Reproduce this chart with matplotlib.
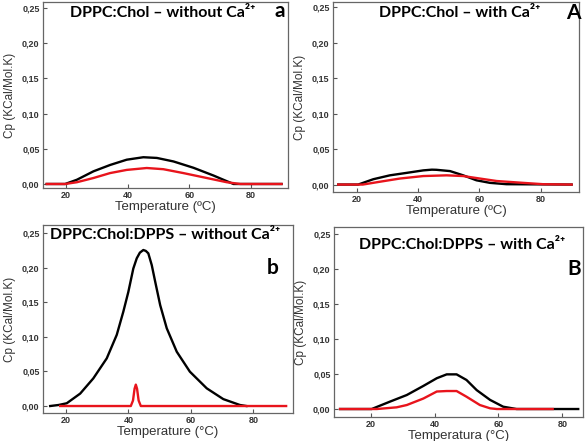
import matplotlib
matplotlib.use('Agg')
import matplotlib.pyplot as plt
import numpy as np

# panel a : DPPC:Chol without Ca2+
a_black_t = [13.7, 19.7, 23.5, 28.9, 34.3, 39.7, 45.1, 49.5, 54.9, 61.4, 67.9, 72.2, 74.4, 90.0]
a_black_cp = [0.0, 0.0, 0.006, 0.018, 0.027, 0.0345, 0.038, 0.037, 0.032, 0.023, 0.012, 0.004, 0.0, 0.0]
a_red_t = [13.7, 19.7, 23.5, 28.9, 34.3, 39.7, 46.2, 51.6, 58.1, 65.7, 72.2, 76.6, 90.0]
a_red_cp = [0.0, 0.0, 0.0025, 0.0085, 0.0155, 0.020, 0.0227, 0.021, 0.0155, 0.0085, 0.0025, 0.0, 0.0]

# panel A : DPPC:Chol with Ca2+
A_black_t = [14.0, 20.5, 25.4, 30.8, 36.3, 41.7, 44.5, 46.0, 50.4, 54.7, 59.0, 63.4, 68.8, 90.0]
A_black_cp = [0.0, 0.0, 0.0075, 0.013, 0.0165, 0.020, 0.021, 0.0208, 0.019, 0.013, 0.006, 0.0024, 0.0005, 0.0]
A_red_t = [14.0, 22.0, 27.6, 34.1, 41.7, 49.3, 54.7, 60.1, 65.6, 74.2, 80.7, 90.0]
A_red_cp = [0.0, 0.0, 0.004, 0.0085, 0.012, 0.013, 0.012, 0.0085, 0.005, 0.0024, 0.0005, 0.0]

# panel b : DPPC:Chol:DPPS without Ca2+
b_black_t = [15.0, 17.7, 20.3, 24.6, 28.8, 33.1, 36.3, 38.4, 40.0, 41.6, 42.7, 43.7, 44.8, 45.6, 46.4,
             47.5, 48.6, 50.2, 52.3, 55.5, 59.7, 65.1, 70.4, 75.7, 77.8]
b_black_cp = [0.0, 0.0015, 0.004, 0.018, 0.040, 0.069, 0.103, 0.1365, 0.165, 0.199, 0.2138, 0.222, 0.2258,
              0.2245, 0.221, 0.204, 0.18, 0.146, 0.1125, 0.0786, 0.0497, 0.0256, 0.010, 0.0015, 0.0]
b_red_t = [18.2, 40.8, 41.5, 42.0, 42.4, 42.8, 43.3, 44.0, 90.5]
b_red_cp = [0.0, 0.0, 0.008, 0.025, 0.031, 0.025, 0.008, 0.0, 0.0]

# panel B : DPPC:Chol:DPPS with Ca2+
B_black_t = [10.4, 20.3, 26.0, 31.3, 36.5, 40.7, 43.8, 46.9, 50.0, 53.2, 57.4, 61.5, 65.7, 85.0]
B_black_cp = [0.0, 0.0, 0.0105, 0.020, 0.033, 0.044, 0.0495, 0.0495, 0.0415, 0.027, 0.013, 0.0033, 0.0, 0.0]
B_red_t = [10.4, 21.9, 28.1, 31.3, 36.5, 40.7, 43.8, 46.9, 50.0, 54.2, 57.4, 59.5, 77.0]
B_red_cp = [0.0, 0.0, 0.0024, 0.0057, 0.015, 0.025, 0.0257, 0.0257, 0.0176, 0.0057, 0.001, 0.0, 0.0]

panels = [
    # rect (px), xlim, ylim, title, title pos, letter, letter pos, xlabel, curves
    ([43, 2, 245, 186], (12.5, 92.1), (-0.0057, 0.2585), 'DPPC:Chol – without Ca²⁺', (0.49, 0.94),
     'a', (0.967, 0.95), 'Temperature (ºC)', (a_black_t, a_black_cp, a_red_t, a_red_cp)),
    ([333, 2, 246, 190], (12.3, 92.4), (-0.0105, 0.2575), 'DPPC:Chol – with Ca²⁺', (0.516, 0.94),
     'A', (0.976, 0.94), 'Temperature (ºC)', (A_black_t, A_black_cp, A_red_t, A_red_cp)),
    ([43, 225, 250, 188], (12.7, 92.7), (-0.0101, 0.262), 'DPPC:Chol:DPPS – without Ca²⁺', (0.49, 0.947),
     'b', (0.92, 0.77), 'Temperature (°C)', (b_black_t, b_black_cp, b_red_t, b_red_cp)),
    ([334, 227, 249, 190], (8.5, 86.5), (-0.0114, 0.26), 'DPPC:Chol:DPPS – with Ca²⁺', (0.514, 0.905),
     'B', (0.965, 0.78), 'Temperatura (°C)', (B_black_t, B_black_cp, B_red_t, B_red_cp)),
]

W, H = 587, 441
fig = plt.figure(figsize=(W / 100, H / 100), dpi=100)

for rect, xl, yl, title, tpos, letter, lpos, xlab, (bt, bc, rt, rc) in panels:
    x0, top, w, h = rect
    ax = fig.add_axes([x0 / W, (H - top - h) / H, w / W, h / H])
    ax.plot(bt, bc, color='black', lw=1.7)
    ax.plot(rt, rc, color='#e8141c', lw=1.7)
    ax.set_xlim(*xl)
    ax.set_ylim(*yl)
    ax.set_xticks([20, 40, 60, 80])
    ax.set_yticks(np.arange(0, 0.26, 0.05))
    ax.set_yticklabels(['0,00', '0,05', '0,10', '0,15', '0,20', '0,25'])
    ax.tick_params(direction='in', length=3, width=0.8, colors='#555555', labelcolor='#333333',
                   labelsize=6.5, pad=2.5)
    for lab in ax.get_xticklabels() + ax.get_yticklabels():
        lab.set_fontweight('bold')
        lab.set_family('Liberation Sans')
    for s in ax.spines.values():
        s.set_color('#666666')
        s.set_linewidth(0.9)
    ax.set_xlabel(xlab, fontsize=9.5, color='#333333', family='Liberation Sans', labelpad=0.5)
    ax.set_ylabel('Cp (KCal/Mol.K)', fontsize=8.5, color='#333333', family='Liberation Sans', labelpad=4)
    ax.text(tpos[0], tpos[1], title, transform=ax.transAxes, ha='center', va='center',
            fontsize=11.5, fontweight='bold', family=['Lato', 'DejaVu Sans'], color='black')
    ax.text(lpos[0], lpos[1], letter, transform=ax.transAxes, ha='center', va='center',
            fontsize=15, fontweight='bold', family=['Lato', 'DejaVu Sans'], color='black')

fig.savefig('out.png', dpi=100)
